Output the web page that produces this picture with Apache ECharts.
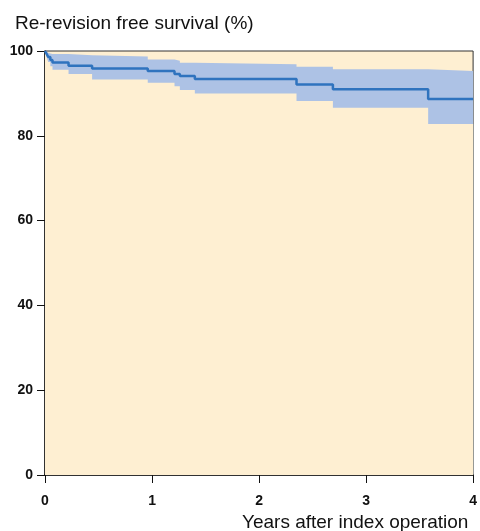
<!DOCTYPE html>
<html>
<head>
<meta charset="utf-8">
<script src="https://cdn.jsdelivr.net/npm/echarts@6/dist/echarts.min.js"></script>
<style>
  html, body { margin: 0; padding: 0; background: #fff; }
  #chart { width: 480px; height: 531px; }
</style>
</head>
<body>
<div id="chart"></div>
<script>
// Kaplan-Meier steps (years, %)
const times    = [0,    0.015, 0.03, 0.05, 0.07, 0.22, 0.44, 0.96, 1.21, 1.26, 1.40, 2.35, 2.69, 3.58, 4.0];
const survival = [100,  99.3,  98.6, 97.9, 97.3, 96.5, 95.9, 95.3, 94.6, 94.1, 93.4, 92.1, 91.0, 88.7, 88.7];
const lower    = [100,  98.5,  97.4, 96.4, 95.6, 94.6, 93.3, 92.5, 91.7, 90.8, 90.0, 88.2, 86.6, 82.8, 82.8];
const upper    = [100,  99.6,  99.4, 99.3, 99.3, 99.0, 98.7, 98.0, 97.7, 97.2, 96.9, 96.3, 95.7, 95.3, 95.3];
const xTicks = [0, 1, 2, 3, 4];
const yTicks = [0, 20, 40, 60, 80, 100];

const chart = echarts.init(document.getElementById('chart'));

const pair = (arr) => times.map((t, i) => [t, arr[i]]);

const bg = '#FEEFD2';
const labelFont = { fontFamily: 'Liberation Sans', fontWeight: 'bold', fontSize: 14, color: '#111' };
const titleFont = { fontFamily: 'Liberation Sans', fontWeight: 'normal', fontSize: 19, color: '#111' };

chart.setOption({
  animation: false,
  title: [
    { text: 'Re-revision free survival (%)', left: 10, top: 9, textStyle: titleFont },
    { text: 'Years after index operation', left: 237, top: 508, textStyle: titleFont },
  ],
  grid: {
    left: 45,
    right: 6,
    top: 51,
    bottom: 56,
    show: true,
    backgroundColor: bg,
    borderColor: '#333',
    borderWidth: 1,
  },
  xAxis: {
    type: 'value',
    min: xTicks[0],
    max: xTicks[xTicks.length - 1],
    interval: 1,
    splitLine: { show: false },
    axisLine: { show: true, lineStyle: { color: '#111', width: 1.5 } },
    axisTick: { show: true, length: 8, lineStyle: { color: '#111' } },
    axisLabel: { ...labelFont, margin: 19 },
  },
  yAxis: {
    type: 'value',
    min: yTicks[0],
    max: yTicks[yTicks.length - 1],
    interval: 20,
    splitLine: { show: false },
    axisLine: { show: true, lineStyle: { color: '#111', width: 1.5 } },
    axisTick: { show: true, length: 8, lineStyle: { color: '#111' } },
    axisLabel: { ...labelFont, margin: 12 },
  },
  series: [
    {
      // upper CI filled down to the axis
      name: 'upper',
      type: 'line',
      step: 'end',
      data: pair(upper),
      symbol: 'none',
      lineStyle: { width: 0 },
      areaStyle: { color: '#ADC2E5', opacity: 1, origin: 'start' },
      silent: true,
    },
    {
      // lower CI painted back with the background colour
      name: 'lower',
      type: 'line',
      step: 'end',
      data: pair(lower),
      symbol: 'none',
      lineStyle: { width: 0 },
      areaStyle: { color: bg, opacity: 1, origin: 'start' },
      silent: true,
    },
    {
      name: 'survival',
      type: 'line',
      step: 'end',
      data: pair(survival),
      symbol: 'none',
      lineStyle: { color: '#2F73BE', width: 2.5 },
    },
  ],
});
</script>
</body>
</html>
